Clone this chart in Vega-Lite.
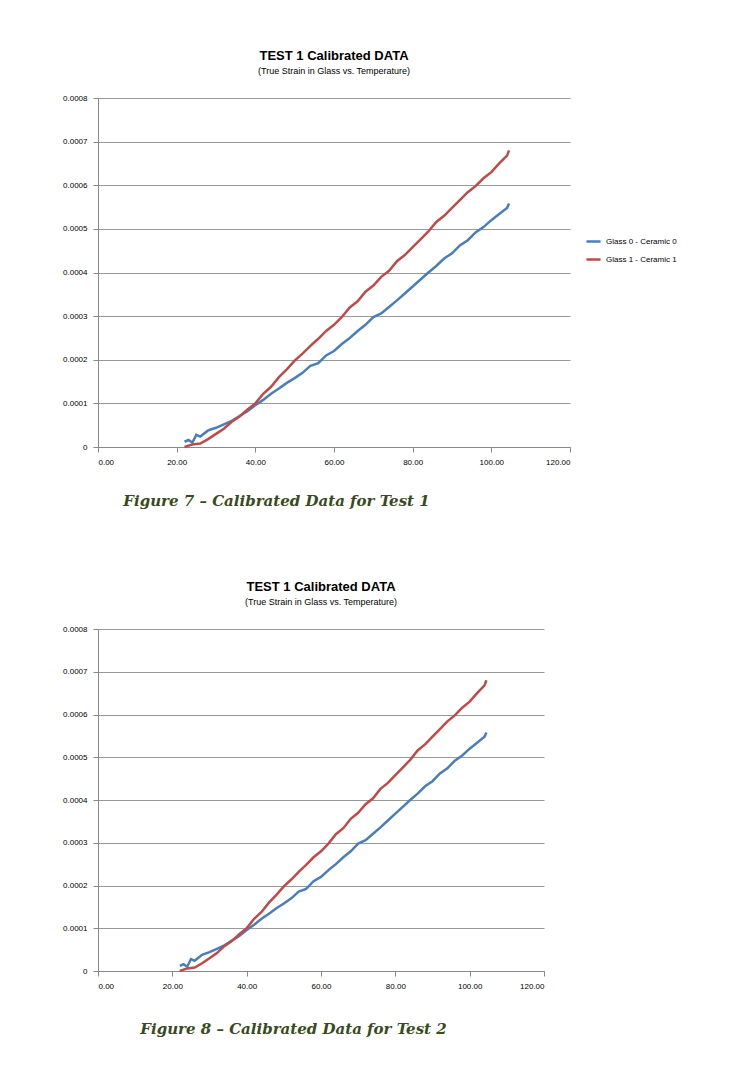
{
  "$schema": "https://vega.github.io/schema/vega-lite/v6.json",
  "background": "white",
  "padding": {"left": 62, "top": 50, "right": 0, "bottom": 0},
  "spacing": 72,
  "datasets": {
    "calib": [
      {"t": 22, "strain": 0.000012, "series": "Glass 0 - Ceramic 0"},
      {"t": 23, "strain": 0.000016, "series": "Glass 0 - Ceramic 0"},
      {"t": 24, "strain": 0.00001, "series": "Glass 0 - Ceramic 0"},
      {"t": 25, "strain": 0.000028, "series": "Glass 0 - Ceramic 0"},
      {"t": 26, "strain": 0.000024, "series": "Glass 0 - Ceramic 0"},
      {"t": 28, "strain": 0.000038, "series": "Glass 0 - Ceramic 0"},
      {"t": 30, "strain": 0.000044, "series": "Glass 0 - Ceramic 0"},
      {"t": 32, "strain": 0.000052, "series": "Glass 0 - Ceramic 0"},
      {"t": 34, "strain": 0.00006, "series": "Glass 0 - Ceramic 0"},
      {"t": 36, "strain": 0.000071, "series": "Glass 0 - Ceramic 0"},
      {"t": 38, "strain": 0.000082, "series": "Glass 0 - Ceramic 0"},
      {"t": 40, "strain": 0.000096, "series": "Glass 0 - Ceramic 0"},
      {"t": 42, "strain": 0.000108, "series": "Glass 0 - Ceramic 0"},
      {"t": 44, "strain": 0.000122, "series": "Glass 0 - Ceramic 0"},
      {"t": 46, "strain": 0.000134, "series": "Glass 0 - Ceramic 0"},
      {"t": 48, "strain": 0.000147, "series": "Glass 0 - Ceramic 0"},
      {"t": 50, "strain": 0.000158, "series": "Glass 0 - Ceramic 0"},
      {"t": 52, "strain": 0.00017, "series": "Glass 0 - Ceramic 0"},
      {"t": 54, "strain": 0.000186, "series": "Glass 0 - Ceramic 0"},
      {"t": 56, "strain": 0.000192, "series": "Glass 0 - Ceramic 0"},
      {"t": 58, "strain": 0.00021, "series": "Glass 0 - Ceramic 0"},
      {"t": 60, "strain": 0.00022, "series": "Glass 0 - Ceramic 0"},
      {"t": 62, "strain": 0.000236, "series": "Glass 0 - Ceramic 0"},
      {"t": 64, "strain": 0.00025, "series": "Glass 0 - Ceramic 0"},
      {"t": 66, "strain": 0.000266, "series": "Glass 0 - Ceramic 0"},
      {"t": 68, "strain": 0.00028, "series": "Glass 0 - Ceramic 0"},
      {"t": 70, "strain": 0.000298, "series": "Glass 0 - Ceramic 0"},
      {"t": 72, "strain": 0.000306, "series": "Glass 0 - Ceramic 0"},
      {"t": 74, "strain": 0.000321, "series": "Glass 0 - Ceramic 0"},
      {"t": 76, "strain": 0.000336, "series": "Glass 0 - Ceramic 0"},
      {"t": 78, "strain": 0.000352, "series": "Glass 0 - Ceramic 0"},
      {"t": 80, "strain": 0.000368, "series": "Glass 0 - Ceramic 0"},
      {"t": 82, "strain": 0.000384, "series": "Glass 0 - Ceramic 0"},
      {"t": 84, "strain": 0.0004, "series": "Glass 0 - Ceramic 0"},
      {"t": 86, "strain": 0.000415, "series": "Glass 0 - Ceramic 0"},
      {"t": 88, "strain": 0.000432, "series": "Glass 0 - Ceramic 0"},
      {"t": 90, "strain": 0.000444, "series": "Glass 0 - Ceramic 0"},
      {"t": 92, "strain": 0.000462, "series": "Glass 0 - Ceramic 0"},
      {"t": 94, "strain": 0.000474, "series": "Glass 0 - Ceramic 0"},
      {"t": 96, "strain": 0.000492, "series": "Glass 0 - Ceramic 0"},
      {"t": 98, "strain": 0.000504, "series": "Glass 0 - Ceramic 0"},
      {"t": 100, "strain": 0.00052, "series": "Glass 0 - Ceramic 0"},
      {"t": 102, "strain": 0.000534, "series": "Glass 0 - Ceramic 0"},
      {"t": 104, "strain": 0.000548, "series": "Glass 0 - Ceramic 0"},
      {"t": 104.5, "strain": 0.000558, "series": "Glass 0 - Ceramic 0"},
      {"t": 22, "strain": 0.0, "series": "Glass 1 - Ceramic 1"},
      {"t": 24, "strain": 0.000006, "series": "Glass 1 - Ceramic 1"},
      {"t": 26, "strain": 0.000008, "series": "Glass 1 - Ceramic 1"},
      {"t": 28, "strain": 0.000018, "series": "Glass 1 - Ceramic 1"},
      {"t": 30, "strain": 0.00003, "series": "Glass 1 - Ceramic 1"},
      {"t": 32, "strain": 0.000042, "series": "Glass 1 - Ceramic 1"},
      {"t": 34, "strain": 0.000058, "series": "Glass 1 - Ceramic 1"},
      {"t": 36, "strain": 0.00007, "series": "Glass 1 - Ceramic 1"},
      {"t": 38, "strain": 0.000086, "series": "Glass 1 - Ceramic 1"},
      {"t": 40, "strain": 0.0001, "series": "Glass 1 - Ceramic 1"},
      {"t": 42, "strain": 0.000122, "series": "Glass 1 - Ceramic 1"},
      {"t": 44, "strain": 0.000138, "series": "Glass 1 - Ceramic 1"},
      {"t": 46, "strain": 0.00016, "series": "Glass 1 - Ceramic 1"},
      {"t": 48, "strain": 0.000178, "series": "Glass 1 - Ceramic 1"},
      {"t": 50, "strain": 0.000198, "series": "Glass 1 - Ceramic 1"},
      {"t": 52, "strain": 0.000214, "series": "Glass 1 - Ceramic 1"},
      {"t": 54, "strain": 0.000232, "series": "Glass 1 - Ceramic 1"},
      {"t": 56, "strain": 0.000248, "series": "Glass 1 - Ceramic 1"},
      {"t": 58, "strain": 0.000266, "series": "Glass 1 - Ceramic 1"},
      {"t": 60, "strain": 0.00028, "series": "Glass 1 - Ceramic 1"},
      {"t": 62, "strain": 0.000298, "series": "Glass 1 - Ceramic 1"},
      {"t": 64, "strain": 0.00032, "series": "Glass 1 - Ceramic 1"},
      {"t": 66, "strain": 0.000334, "series": "Glass 1 - Ceramic 1"},
      {"t": 68, "strain": 0.000356, "series": "Glass 1 - Ceramic 1"},
      {"t": 70, "strain": 0.00037, "series": "Glass 1 - Ceramic 1"},
      {"t": 72, "strain": 0.00039, "series": "Glass 1 - Ceramic 1"},
      {"t": 74, "strain": 0.000404, "series": "Glass 1 - Ceramic 1"},
      {"t": 76, "strain": 0.000426, "series": "Glass 1 - Ceramic 1"},
      {"t": 78, "strain": 0.00044, "series": "Glass 1 - Ceramic 1"},
      {"t": 80, "strain": 0.000458, "series": "Glass 1 - Ceramic 1"},
      {"t": 82, "strain": 0.000476, "series": "Glass 1 - Ceramic 1"},
      {"t": 84, "strain": 0.000494, "series": "Glass 1 - Ceramic 1"},
      {"t": 86, "strain": 0.000516, "series": "Glass 1 - Ceramic 1"},
      {"t": 88, "strain": 0.00053, "series": "Glass 1 - Ceramic 1"},
      {"t": 90, "strain": 0.000548, "series": "Glass 1 - Ceramic 1"},
      {"t": 92, "strain": 0.000566, "series": "Glass 1 - Ceramic 1"},
      {"t": 94, "strain": 0.000584, "series": "Glass 1 - Ceramic 1"},
      {"t": 96, "strain": 0.000598, "series": "Glass 1 - Ceramic 1"},
      {"t": 98, "strain": 0.000616, "series": "Glass 1 - Ceramic 1"},
      {"t": 100, "strain": 0.00063, "series": "Glass 1 - Ceramic 1"},
      {"t": 102, "strain": 0.00065, "series": "Glass 1 - Ceramic 1"},
      {"t": 104, "strain": 0.000668, "series": "Glass 1 - Ceramic 1"},
      {"t": 104.5, "strain": 0.00068, "series": "Glass 1 - Ceramic 1"}
    ]
  },
  "vconcat": [
    {
      "title": {"text": "Figure 7 – Calibrated Data for Test 1", "orient": "bottom", "anchor": "middle", "dx": -40, "offset": 28, "font": "DejaVu Serif", "fontStyle": "italic", "fontWeight": "bold", "fontSize": 15, "color": "#3a4a20"},
      "vconcat": [
        {
          "title": {"text": "TEST 1 Calibrated DATA", "subtitle": "(True Strain in Glass vs. Temperature)"},
          "width": 472,
          "height": 349,
          "data": {"name": "calib"},
          "mark": {"type": "line", "strokeWidth": 2.5},
          "encoding": {
            "x": {"field": "t", "type": "quantitative", "title": null, "scale": {"domain": [0, 120]}, "axis": {"values": [0, 20, 40, 60, 80, 100, 120], "format": ".2f", "grid": false}},
            "y": {"field": "strain", "type": "quantitative", "title": null, "scale": {"domain": [0, 0.0008]}, "axis": {"values": [0, 0.0001, 0.0002, 0.0003, 0.0004, 0.0005, 0.0006, 0.0007, 0.0008], "labelExpr": "datum.value == 0 ? '0' : format(datum.value, '.4f')"}},
            "color": {"field": "series", "type": "nominal", "title": null, "scale": {"range": ["#4a7ebb", "#be4b48"]}, "legend": {"orient": "none", "legendX": 487, "legendY": 135}}
          }
        }
      ]
    },
    {
      "title": {"text": "Figure 8 – Calibrated Data for Test 2", "orient": "bottom", "anchor": "middle", "dx": -10, "offset": 32, "font": "DejaVu Serif", "fontStyle": "italic", "fontWeight": "bold", "fontSize": 15, "color": "#3a4a20"},
      "vconcat": [
        {
          "title": {"text": "TEST 1 Calibrated DATA", "subtitle": "(True Strain in Glass vs. Temperature)"},
          "width": 446,
          "height": 342,
          "data": {"name": "calib"},
          "mark": {"type": "line", "strokeWidth": 2.5},
          "encoding": {
            "x": {"field": "t", "type": "quantitative", "title": null, "scale": {"domain": [0, 120]}, "axis": {"values": [0, 20, 40, 60, 80, 100, 120], "format": ".2f", "grid": false}},
            "y": {"field": "strain", "type": "quantitative", "title": null, "scale": {"domain": [0, 0.0008]}, "axis": {"values": [0, 0.0001, 0.0002, 0.0003, 0.0004, 0.0005, 0.0006, 0.0007, 0.0008], "labelExpr": "datum.value == 0 ? '0' : format(datum.value, '.4f')"}},
            "color": {"field": "series", "type": "nominal", "title": null, "scale": {"range": ["#4a7ebb", "#be4b48"]}, "legend": {"orient": "none", "legendX": 474, "legendY": 135}}
          }
        }
      ]
    }
  ],
  "config": {
    "font": "Liberation Sans",
    "view": {"stroke": null},
    "title": {"font": "Liberation Sans", "fontStyle": "normal", "fontSize": 13, "fontWeight": "bold", "color": "#000", "subtitleFont": "Liberation Sans", "subtitleFontSize": 9, "subtitleColor": "#000", "offset": 18, "subtitlePadding": 4},
    "concat": {"spacing": 0},
    "axis": {"labelFontSize": 8, "labelColor": "#000", "domainColor": "#888", "tickColor": "#888", "gridColor": "#999", "labelPadding": 6},
    "legend": {"labelFontSize": 8, "labelColor": "#000", "symbolType": "stroke", "symbolStrokeWidth": 2.5, "symbolSize": 200, "rowPadding": 4, "labelLimit": 200}
  }
}
